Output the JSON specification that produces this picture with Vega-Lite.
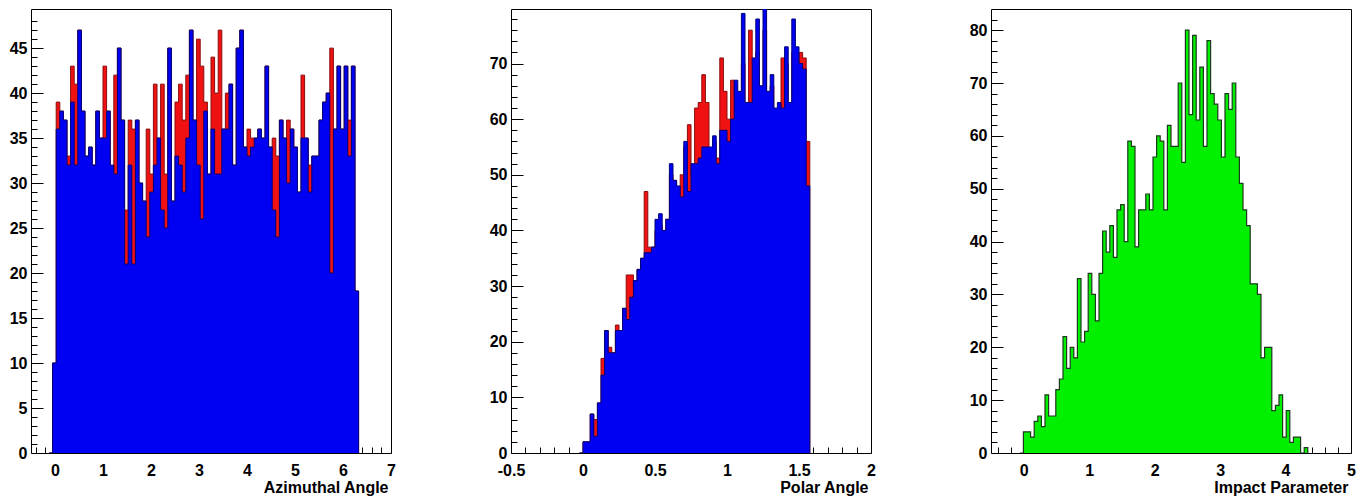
{
  "$schema": "https://vega.github.io/schema/vega-lite/v6.json",
  "background": "white",
  "padding": {"left": 8, "top": 8, "right": 0, "bottom": 0},
  "bounds": "flush",
  "spacing": 120,
  "config": {
    "view": {"stroke": "black", "strokeWidth": 1},
    "axis": {
      "domain": false,
      "grid": false,
      "tickColor": "black",
      "tickWidth": 1,
      "labelFont": "Liberation Sans",
      "labelFontWeight": "bold",
      "labelFontSize": 16,
      "labelColor": "black",
      "titleFont": "Liberation Sans",
      "titleFontWeight": "bold",
      "titleFontSize": 16,
      "titleColor": "black",
      "labelOverlap": false,
      "labelFlush": false,
      "zindex": 1
    }
  },
  "hconcat": [
    {
      "width": 360,
      "height": 444,
      "data": {"values": [
        {"lo": -0.125, "red": 0, "blue": 0},
        {"lo": -0.05, "red": 10, "blue": 10},
        {"lo": 0.025, "red": 39, "blue": 36},
        {"lo": 0.1, "red": 38, "blue": 38},
        {"lo": 0.175, "red": 37, "blue": 37},
        {"lo": 0.25, "red": 33, "blue": 32},
        {"lo": 0.325, "red": 43, "blue": 39},
        {"lo": 0.4, "red": 41, "blue": 32},
        {"lo": 0.475, "red": 47, "blue": 47},
        {"lo": 0.55, "red": 38, "blue": 38},
        {"lo": 0.625, "red": 33, "blue": 33},
        {"lo": 0.7, "red": 34, "blue": 34},
        {"lo": 0.775, "red": 32, "blue": 32},
        {"lo": 0.85, "red": 38, "blue": 38},
        {"lo": 0.925, "red": 35, "blue": 35},
        {"lo": 1.0, "red": 43, "blue": 35},
        {"lo": 1.075, "red": 38, "blue": 38},
        {"lo": 1.15, "red": 31, "blue": 32},
        {"lo": 1.225, "red": 42, "blue": 31},
        {"lo": 1.3, "red": 45, "blue": 45},
        {"lo": 1.375, "red": 37, "blue": 37},
        {"lo": 1.45, "red": 27, "blue": 21},
        {"lo": 1.525, "red": 37, "blue": 32},
        {"lo": 1.6, "red": 36, "blue": 21},
        {"lo": 1.675, "red": 37, "blue": 37},
        {"lo": 1.75, "red": 30, "blue": 30},
        {"lo": 1.825, "red": 28, "blue": 28},
        {"lo": 1.9, "red": 36, "blue": 24},
        {"lo": 1.975, "red": 31, "blue": 29},
        {"lo": 2.05, "red": 41, "blue": 32},
        {"lo": 2.125, "red": 35, "blue": 35},
        {"lo": 2.2, "red": 41, "blue": 27},
        {"lo": 2.275, "red": 31, "blue": 25},
        {"lo": 2.35, "red": 45, "blue": 45},
        {"lo": 2.425, "red": 28, "blue": 28},
        {"lo": 2.5, "red": 39, "blue": 33},
        {"lo": 2.575, "red": 41, "blue": 32},
        {"lo": 2.65, "red": 37, "blue": 29},
        {"lo": 2.725, "red": 42, "blue": 35},
        {"lo": 2.8, "red": 47, "blue": 47},
        {"lo": 2.875, "red": 37, "blue": 37},
        {"lo": 2.95, "red": 46, "blue": 32},
        {"lo": 3.025, "red": 43, "blue": 26},
        {"lo": 3.1, "red": 39, "blue": 38},
        {"lo": 3.175, "red": 31, "blue": 31},
        {"lo": 3.25, "red": 44, "blue": 36},
        {"lo": 3.325, "red": 40, "blue": 31},
        {"lo": 3.4, "red": 47, "blue": 31},
        {"lo": 3.475, "red": 36, "blue": 36},
        {"lo": 3.55, "red": 40, "blue": 36},
        {"lo": 3.625, "red": 41, "blue": 41},
        {"lo": 3.7, "red": 32, "blue": 32},
        {"lo": 3.775, "red": 45, "blue": 45},
        {"lo": 3.85, "red": 47, "blue": 47},
        {"lo": 3.925, "red": 34, "blue": 34},
        {"lo": 4.0, "red": 36, "blue": 33},
        {"lo": 4.075, "red": 35, "blue": 34},
        {"lo": 4.15, "red": 35, "blue": 35},
        {"lo": 4.225, "red": 36, "blue": 36},
        {"lo": 4.3, "red": 35, "blue": 35},
        {"lo": 4.375, "red": 43, "blue": 43},
        {"lo": 4.45, "red": 34, "blue": 34},
        {"lo": 4.525, "red": 35, "blue": 27},
        {"lo": 4.6, "red": 33, "blue": 24},
        {"lo": 4.675, "red": 37, "blue": 37},
        {"lo": 4.75, "red": 35, "blue": 35},
        {"lo": 4.825, "red": 37, "blue": 30},
        {"lo": 4.9, "red": 36, "blue": 36},
        {"lo": 4.975, "red": 34, "blue": 34},
        {"lo": 5.05, "red": 29, "blue": 29},
        {"lo": 5.125, "red": 42, "blue": 35},
        {"lo": 5.2, "red": 35, "blue": 35},
        {"lo": 5.275, "red": 32, "blue": 29},
        {"lo": 5.35, "red": 33, "blue": 33},
        {"lo": 5.425, "red": 33, "blue": 33},
        {"lo": 5.5, "red": 37, "blue": 37},
        {"lo": 5.575, "red": 39, "blue": 39},
        {"lo": 5.65, "red": 40, "blue": 40},
        {"lo": 5.725, "red": 45, "blue": 20},
        {"lo": 5.8, "red": 36, "blue": 36},
        {"lo": 5.875, "red": 43, "blue": 43},
        {"lo": 5.95, "red": 36, "blue": 36},
        {"lo": 6.025, "red": 43, "blue": 43},
        {"lo": 6.1, "red": 37, "blue": 33},
        {"lo": 6.175, "red": 43, "blue": 43},
        {"lo": 6.25, "red": 18, "blue": 18},
        {"lo": 6.325, "red": 0, "blue": 0}
      ]},
      "encoding": {
        "x": {
          "field": "lo", "type": "quantitative",
          "scale": {"domain": [-0.5, 7.0], "nice": false, "zero": false},
          "axis": {
            "values": [-0.4,-0.2,0,0.2,0.4,0.6,0.8,1,1.2,1.4,1.6,1.8,2,2.2,2.4,2.6,2.8,3,3.2,3.4,3.6,3.8,4,4.2,4.4,4.6,4.8,5,5.2,5.4,5.6,5.8,6,6.2,6.4,6.6,6.8,7],
            "labelExpr": "abs(datum.value - round(datum.value)) < 0.001 ? toString(round(datum.value)) : ''",
            "tickSize": {"condition": {"test": "abs(datum.value - round(datum.value)) < 0.001", "value": -12}, "value": -6},
            "labelPadding": 21,
            "title": "Azimuthal Angle",
            "titleAlign": "right",
            "titleBaseline": "top",
            "titleX": 357,
            "titleY": 26
          }
        }
      },
      "layer": [
        {
          "mark": {"type": "area", "interpolate": "step-after", "color": "#f01212", "opacity": 1, "clip": true, "line": {"color": "#8a0c0c", "strokeWidth": 1}},
          "encoding": {
            "y": {
              "field": "red", "type": "quantitative",
              "scale": {"domain": [0, 49.35], "nice": false},
              "axis": {
                "values": [0,1,2,3,4,5,6,7,8,9,10,11,12,13,14,15,16,17,18,19,20,21,22,23,24,25,26,27,28,29,30,31,32,33,34,35,36,37,38,39,40,41,42,43,44,45,46,47,48],
                "labelExpr": "datum.value % 5 === 0 ? toString(datum.value) : ''",
                "tickSize": {"condition": {"test": "datum.value % 5 === 0", "value": -12}, "value": -6},
                "labelPadding": 16,
                "title": null
              }
            }
          }
        },
        {
          "mark": {"type": "area", "interpolate": "step-after", "color": "#0000f2", "opacity": 1, "clip": true, "line": {"color": "#00007a", "strokeWidth": 1}},
          "encoding": {
            "y": {
              "field": "blue", "type": "quantitative",
              "scale": {"domain": [0, 49.35], "nice": false},
              "axis": {
                "values": [0,1,2,3,4,5,6,7,8,9,10,11,12,13,14,15,16,17,18,19,20,21,22,23,24,25,26,27,28,29,30,31,32,33,34,35,36,37,38,39,40,41,42,43,44,45,46,47,48],
                "labelExpr": "datum.value % 5 === 0 ? toString(datum.value) : ''",
                "tickSize": {"condition": {"test": "datum.value % 5 === 0", "value": -12}, "value": -6},
                "labelPadding": 16,
                "title": null
              }
            }
          }
        }
      ]
    },
    {
      "width": 360,
      "height": 444,
      "data": {"values": [
        {"lo": -0.025, "red": 0, "blue": 0},
        {"lo": 0.0, "red": 2, "blue": 2},
        {"lo": 0.025, "red": 2, "blue": 2},
        {"lo": 0.05, "red": 7, "blue": 7},
        {"lo": 0.075, "red": 6, "blue": 3},
        {"lo": 0.1, "red": 9, "blue": 9},
        {"lo": 0.125, "red": 17, "blue": 14},
        {"lo": 0.15, "red": 22, "blue": 22},
        {"lo": 0.175, "red": 19, "blue": 18},
        {"lo": 0.2, "red": 18, "blue": 18},
        {"lo": 0.225, "red": 23, "blue": 22},
        {"lo": 0.25, "red": 22, "blue": 22},
        {"lo": 0.275, "red": 26, "blue": 26},
        {"lo": 0.3, "red": 32, "blue": 24},
        {"lo": 0.325, "red": 32, "blue": 28},
        {"lo": 0.35, "red": 30, "blue": 31},
        {"lo": 0.375, "red": 33, "blue": 33},
        {"lo": 0.4, "red": 35, "blue": 35},
        {"lo": 0.425, "red": 47, "blue": 36},
        {"lo": 0.45, "red": 37, "blue": 36},
        {"lo": 0.475, "red": 37, "blue": 37},
        {"lo": 0.5, "red": 40, "blue": 42},
        {"lo": 0.525, "red": 41, "blue": 43},
        {"lo": 0.55, "red": 40, "blue": 40},
        {"lo": 0.575, "red": 42, "blue": 42},
        {"lo": 0.6, "red": 50, "blue": 52},
        {"lo": 0.625, "red": 49, "blue": 49},
        {"lo": 0.65, "red": 47, "blue": 48},
        {"lo": 0.675, "red": 50, "blue": 46},
        {"lo": 0.7, "red": 55, "blue": 56},
        {"lo": 0.725, "red": 59, "blue": 47},
        {"lo": 0.75, "red": 50, "blue": 52},
        {"lo": 0.775, "red": 62, "blue": 52},
        {"lo": 0.8, "red": 63, "blue": 53},
        {"lo": 0.825, "red": 68, "blue": 55},
        {"lo": 0.85, "red": 63, "blue": 55},
        {"lo": 0.875, "red": 54, "blue": 55},
        {"lo": 0.9, "red": 56, "blue": 57},
        {"lo": 0.925, "red": 53, "blue": 52},
        {"lo": 0.95, "red": 71, "blue": 58},
        {"lo": 0.975, "red": 65, "blue": 58},
        {"lo": 1.0, "red": 60, "blue": 56},
        {"lo": 1.025, "red": 67, "blue": 60},
        {"lo": 1.05, "red": 64, "blue": 67},
        {"lo": 1.075, "red": 64, "blue": 65},
        {"lo": 1.1, "red": 70, "blue": 79},
        {"lo": 1.125, "red": 62, "blue": 63},
        {"lo": 1.15, "red": 76, "blue": 63},
        {"lo": 1.175, "red": 70, "blue": 71},
        {"lo": 1.2, "red": 72, "blue": 78},
        {"lo": 1.225, "red": 64, "blue": 66},
        {"lo": 1.25, "red": 76, "blue": 80},
        {"lo": 1.275, "red": 62, "blue": 65},
        {"lo": 1.3, "red": 66, "blue": 68},
        {"lo": 1.325, "red": 60, "blue": 62},
        {"lo": 1.35, "red": 62, "blue": 63},
        {"lo": 1.375, "red": 71, "blue": 62},
        {"lo": 1.4, "red": 70, "blue": 73},
        {"lo": 1.425, "red": 62, "blue": 63},
        {"lo": 1.45, "red": 72, "blue": 78},
        {"lo": 1.475, "red": 70, "blue": 73},
        {"lo": 1.5, "red": 72, "blue": 70},
        {"lo": 1.525, "red": 71, "blue": 69},
        {"lo": 1.55, "red": 56, "blue": 48},
        {"lo": 1.575, "red": 0, "blue": 0}
      ]},
      "encoding": {
        "x": {
          "field": "lo", "type": "quantitative",
          "scale": {"domain": [-0.5, 2.0], "nice": false, "zero": false},
          "axis": {
            "values": [-0.5,-0.4,-0.3,-0.2,-0.1,0,0.1,0.2,0.3,0.4,0.5,0.6,0.7,0.8,0.9,1,1.1,1.2,1.3,1.4,1.5,1.6,1.7,1.8,1.9,2],
            "labelExpr": "abs(datum.value * 2 - round(datum.value * 2)) < 0.001 ? toString(round(datum.value * 2) / 2) : ''",
            "tickSize": {"condition": {"test": "abs(datum.value * 2 - round(datum.value * 2)) < 0.001", "value": -12}, "value": -6},
            "labelPadding": 21,
            "title": "Polar Angle",
            "titleAlign": "right",
            "titleBaseline": "top",
            "titleX": 357,
            "titleY": 26
          }
        }
      },
      "layer": [
        {
          "mark": {"type": "area", "interpolate": "step-after", "color": "#f01212", "opacity": 1, "clip": true, "line": {"color": "#8a0c0c", "strokeWidth": 1}},
          "encoding": {
            "y": {
              "field": "red", "type": "quantitative",
              "scale": {"domain": [0, 79.8], "nice": false},
              "axis": {
                "values": [0,2,4,6,8,10,12,14,16,18,20,22,24,26,28,30,32,34,36,38,40,42,44,46,48,50,52,54,56,58,60,62,64,66,68,70,72,74,76,78],
                "labelExpr": "datum.value % 10 === 0 ? toString(datum.value) : ''",
                "tickSize": {"condition": {"test": "datum.value % 10 === 0", "value": -12}, "value": -6},
                "labelPadding": 16,
                "title": null
              }
            }
          }
        },
        {
          "mark": {"type": "area", "interpolate": "step-after", "color": "#0000f2", "opacity": 1, "clip": true, "line": {"color": "#00007a", "strokeWidth": 1}},
          "encoding": {
            "y": {
              "field": "blue", "type": "quantitative",
              "scale": {"domain": [0, 79.8], "nice": false},
              "axis": {
                "values": [0,2,4,6,8,10,12,14,16,18,20,22,24,26,28,30,32,34,36,38,40,42,44,46,48,50,52,54,56,58,60,62,64,66,68,70,72,74,76,78],
                "labelExpr": "datum.value % 10 === 0 ? toString(datum.value) : ''",
                "tickSize": {"condition": {"test": "datum.value % 10 === 0", "value": -12}, "value": -6},
                "labelPadding": 16,
                "title": null
              }
            }
          }
        }
      ]
    },
    {
      "width": 360,
      "height": 444,
      "data": {"values": [
        {"lo": -0.06, "count": 0},
        {"lo": -0.005, "count": 4},
        {"lo": 0.05, "count": 4},
        {"lo": 0.105, "count": 3},
        {"lo": 0.16, "count": 6},
        {"lo": 0.215, "count": 7},
        {"lo": 0.27, "count": 5},
        {"lo": 0.325, "count": 11},
        {"lo": 0.38, "count": 7},
        {"lo": 0.435, "count": 7},
        {"lo": 0.49, "count": 12},
        {"lo": 0.545, "count": 14},
        {"lo": 0.6, "count": 22},
        {"lo": 0.655, "count": 16},
        {"lo": 0.71, "count": 20},
        {"lo": 0.765, "count": 18},
        {"lo": 0.82, "count": 33},
        {"lo": 0.875, "count": 21},
        {"lo": 0.93, "count": 23},
        {"lo": 0.985, "count": 34},
        {"lo": 1.04, "count": 30},
        {"lo": 1.095, "count": 25},
        {"lo": 1.15, "count": 34},
        {"lo": 1.205, "count": 42},
        {"lo": 1.26, "count": 38},
        {"lo": 1.315, "count": 43},
        {"lo": 1.37, "count": 37},
        {"lo": 1.425, "count": 46},
        {"lo": 1.48, "count": 47},
        {"lo": 1.535, "count": 40},
        {"lo": 1.59, "count": 59},
        {"lo": 1.645, "count": 58},
        {"lo": 1.7, "count": 39},
        {"lo": 1.755, "count": 46},
        {"lo": 1.81, "count": 46},
        {"lo": 1.865, "count": 49},
        {"lo": 1.92, "count": 46},
        {"lo": 1.975, "count": 56},
        {"lo": 2.03, "count": 60},
        {"lo": 2.085, "count": 59},
        {"lo": 2.14, "count": 46},
        {"lo": 2.195, "count": 62},
        {"lo": 2.25, "count": 58},
        {"lo": 2.305, "count": 58},
        {"lo": 2.36, "count": 70},
        {"lo": 2.415, "count": 55},
        {"lo": 2.47, "count": 80},
        {"lo": 2.525, "count": 64},
        {"lo": 2.58, "count": 79},
        {"lo": 2.635, "count": 63},
        {"lo": 2.69, "count": 73},
        {"lo": 2.745, "count": 58},
        {"lo": 2.8, "count": 78},
        {"lo": 2.855, "count": 68},
        {"lo": 2.91, "count": 66},
        {"lo": 2.965, "count": 63},
        {"lo": 3.02, "count": 56},
        {"lo": 3.075, "count": 68},
        {"lo": 3.13, "count": 65},
        {"lo": 3.185, "count": 70},
        {"lo": 3.24, "count": 56},
        {"lo": 3.295, "count": 51},
        {"lo": 3.35, "count": 46},
        {"lo": 3.405, "count": 43},
        {"lo": 3.46, "count": 32},
        {"lo": 3.515, "count": 32},
        {"lo": 3.57, "count": 30},
        {"lo": 3.625, "count": 18},
        {"lo": 3.68, "count": 20},
        {"lo": 3.735, "count": 20},
        {"lo": 3.79, "count": 8},
        {"lo": 3.845, "count": 9},
        {"lo": 3.9, "count": 11},
        {"lo": 3.955, "count": 3},
        {"lo": 4.01, "count": 8},
        {"lo": 4.065, "count": 2},
        {"lo": 4.12, "count": 3},
        {"lo": 4.175, "count": 3},
        {"lo": 4.23, "count": 0},
        {"lo": 4.285, "count": 1},
        {"lo": 4.34, "count": 0}
      ]},
      "mark": {"type": "area", "interpolate": "step-after", "color": "#00f000", "opacity": 1, "clip": true, "line": {"color": "#1c3a1c", "strokeWidth": 1.2}},
      "encoding": {
        "x": {
          "field": "lo", "type": "quantitative",
          "scale": {"domain": [-0.5, 5.0], "nice": false, "zero": false},
          "axis": {
            "values": [-0.4,-0.2,0,0.2,0.4,0.6,0.8,1,1.2,1.4,1.6,1.8,2,2.2,2.4,2.6,2.8,3,3.2,3.4,3.6,3.8,4,4.2,4.4,4.6,4.8,5],
            "labelExpr": "abs(datum.value - round(datum.value)) < 0.001 ? toString(round(datum.value)) : ''",
            "tickSize": {"condition": {"test": "abs(datum.value - round(datum.value)) < 0.001", "value": -12}, "value": -6},
            "labelPadding": 21,
            "title": "Impact Parameter",
            "titleAlign": "right",
            "titleBaseline": "top",
            "titleX": 357,
            "titleY": 26
          }
        },
        "y": {
          "field": "count", "type": "quantitative",
          "scale": {"domain": [0, 84], "nice": false},
          "axis": {
            "values": [0,2,4,6,8,10,12,14,16,18,20,22,24,26,28,30,32,34,36,38,40,42,44,46,48,50,52,54,56,58,60,62,64,66,68,70,72,74,76,78,80,82],
            "labelExpr": "datum.value % 10 === 0 ? toString(datum.value) : ''",
            "tickSize": {"condition": {"test": "datum.value % 10 === 0", "value": -12}, "value": -6},
            "labelPadding": 16,
            "title": null
          }
        }
      }
    }
  ]
}
